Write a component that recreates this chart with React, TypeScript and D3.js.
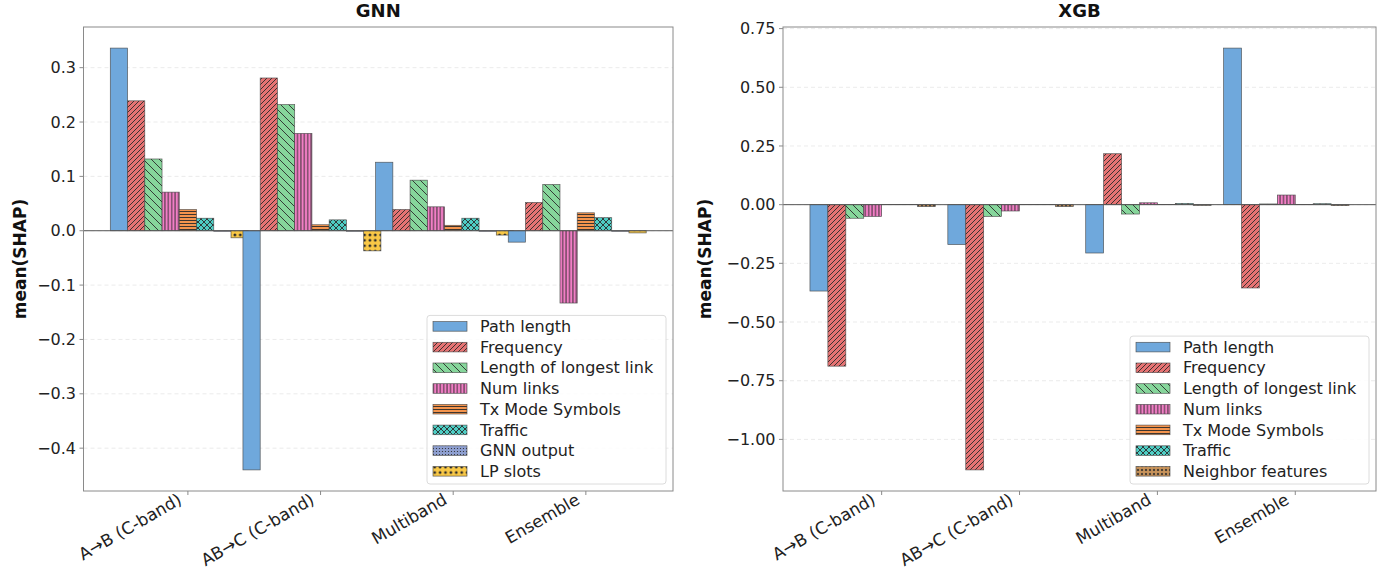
import React from "react";
import * as d3 from "d3";

const categories = ["A→B (C-band)", "AB→C (C-band)", "Multiband", "Ensemble"];

const gnnFeatures = [
  "Path length",
  "Frequency",
  "Length of longest link",
  "Num links",
  "Tx Mode Symbols",
  "Traffic",
  "GNN output",
  "LP slots",
];
const xgbFeatures = [
  "Path length",
  "Frequency",
  "Length of longest link",
  "Num links",
  "Tx Mode Symbols",
  "Traffic",
  "Neighbor features",
];

// GNN mean(SHAP), one value per category
const gnnPathLength = [0.336, -0.44, 0.126, -0.021];
const gnnFrequency = [0.239, 0.281, 0.039, 0.052];
const gnnLongestLink = [0.132, 0.232, 0.093, 0.085];
const gnnNumLinks = [0.071, 0.179, 0.044, -0.133];
const gnnTxMode = [0.039, 0.011, 0.01, 0.033];
const gnnTraffic = [0.023, 0.02, 0.023, 0.024];
const gnnOutput = [-0.001, -0.001, -0.001, -0.001];
const gnnLpSlots = [-0.013, -0.037, -0.008, -0.004];

// XGB mean(SHAP)
const xgbPathLength = [-0.368, -0.17, -0.206, 0.667];
const xgbFrequency = [-0.688, -1.13, 0.217, -0.355];
const xgbLongestLink = [-0.058, -0.05, -0.04, 0.003];
const xgbNumLinks = [-0.05, -0.027, 0.008, 0.041];
const xgbTxMode = [0.001, 0.001, 0.001, 0.001];
const xgbTraffic = [0.001, 0.001, 0.005, 0.004];
const xgbNeighbor = [-0.008, -0.008, -0.003, -0.004];

const gnnTicks = [-0.4, -0.3, -0.2, -0.1, 0, 0.1, 0.2, 0.3];
const xgbTicks = [-1.0, -0.75, -0.5, -0.25, 0, 0.25, 0.5, 0.75];

const featureStyle: Record<string, { color: string; hatch: string }> = {
  "Path length": { color: "#6fa8dc", hatch: "none" },
  Frequency: { color: "#e67373", hatch: "/" },
  "Length of longest link": { color: "#86d69b", hatch: "\\" },
  "Num links": { color: "#f27ec6", hatch: "|" },
  "Tx Mode Symbols": { color: "#f4944d", hatch: "-" },
  Traffic: { color: "#4ecdc4", hatch: "x" },
  "GNN output": { color: "#8e9fd0", hatch: "." },
  "LP slots": { color: "#f9c846", hatch: "o" },
  "Neighbor features": { color: "#c8935a", hatch: "*" },
};

const BAR_W = 0.13;
const FONT = "DejaVu Sans, sans-serif";
const ink = "#2a2a2a";

const patId = (name: string) => "hatch-" + name.replace(/[^a-zA-Z]/g, "");

function Hatch({ name }: { name: string }) {
  const { color, hatch } = featureStyle[name];
  const id = patId(name);
  const base = (w: number, h: number, children: React.ReactNode) => (
    <pattern id={id} width={w} height={h} patternUnits="userSpaceOnUse">
      <rect width={w} height={h} fill={color} />
      {children}
    </pattern>
  );
  const s = { stroke: ink, strokeWidth: 0.9, fill: "none" };
  switch (hatch) {
    case "/":
      return base(5, 5, <path d="M-1,1 L1,-1 M0,5 L5,0 M4,6 L6,4" {...s} />);
    case "\\":
      return base(8, 8, <path d="M0,0 L8,8 M-2,6 L2,10 M6,-2 L10,2" {...s} />);
    case "|":
      return base(3.4, 4, <path d="M1.7,0 L1.7,4" {...s} />);
    case "-":
      return base(4, 3, <path d="M0,1.5 L4,1.5" {...s} />);
    case "x":
      return base(
        6,
        6,
        <path d="M0,0 L6,6 M6,0 L0,6 M-1,5 L1,7 M5,-1 L7,1" {...s} />
      );
    case ".":
      return base(3, 3, <circle cx={1.5} cy={1.5} r={0.6} fill={ink} />);
    case "o":
      return base(5.4, 5.4, <circle cx={2.7} cy={2.7} r={1.4} fill={ink} />);
    case "*":
      return base(
        4,
        4,
        <path d="M2,0.8 L2,3.2 M0.8,2 L3.2,2 M1.1,1.1 L2.9,2.9 M2.9,1.1 L1.1,2.9" stroke={ink} strokeWidth={0.6} />
      );
    default:
      return base(4, 4, null);
  }
}

type PanelProps = {
  title: string;
  features: string[];
  series: number[][];
  ticks: number[];
  fmt: (v: number) => string;
  left: number;
  right: number;
  labelX: number;
};

const TOP = 27;
const BOTTOM = 491;

function Panel({ title, features, series, ticks, fmt, left, right, labelX }: PanelProps) {
  const n = features.length;
  const lo = -(n / 2) * BAR_W - BAR_W / 2;
  const hi = categories.length - 1 + (n / 2 - 1) * BAR_W + BAR_W / 2;
  const xPad = (hi - lo) * 0.05;
  const x = d3.scaleLinear().domain([lo - xPad, hi + xPad]).range([left, right]);

  const all = series.flat();
  const yMin = Math.min(0, d3.min(all) as number);
  const yMax = Math.max(0, d3.max(all) as number);
  const yPad = (yMax - yMin) * 0.05;
  const y = d3.scaleLinear().domain([yMin - yPad, yMax + yPad]).range([BOTTOM, TOP]);
  const bw = x(BAR_W) - x(0);

  const legendW = 239;
  const rowH = 20.7;
  const legendH = n * rowH + 3;
  const lx = right - 7 - legendW;
  const ly = BOTTOM - 7 - legendH;

  return (
    <g>
      {/* grid */}
      {ticks.map((t) => (
        <line
          key={"g" + t}
          x1={left}
          x2={right}
          y1={y(t)}
          y2={y(t)}
          stroke="#e6e6e6"
          strokeDasharray="4,3"
          strokeWidth={0.8}
        />
      ))}

      {/* bars, group by group */}
      {categories.map((c, ci) =>
        features.map((f, fi) => {
          const v = series[fi][ci];
          const cx = x(ci + (fi - n / 2) * BAR_W);
          return (
            <rect
              key={c + f}
              x={cx - bw / 2}
              width={bw}
              y={Math.min(y(v), y(0))}
              height={Math.abs(y(v) - y(0))}
              fill={`url(#${patId(f)})`}
              stroke="#444"
              strokeWidth={0.7}
              strokeOpacity={0.85}
            />
          );
        })
      )}

      {/* zero line */}
      <line x1={left} x2={right} y1={y(0)} y2={y(0)} stroke="#555" strokeWidth={1} />

      {/* frame */}
      <rect x={left} y={TOP} width={right - left} height={BOTTOM - TOP} fill="none" stroke="#8a8a8a" strokeWidth={1} />

      {/* y ticks */}
      {ticks.map((t) => (
        <g key={"t" + t}>
          <line x1={left - 4} x2={left} y1={y(t)} y2={y(t)} stroke="#8a8a8a" />
          <text
            x={left - 7.5}
            y={y(t)}
            dy="0.35em"
            textAnchor="end"
            fontSize={16}
            fontFamily={FONT}
            fill="#222"
          >
            {fmt(t)}
          </text>
        </g>
      ))}

      {/* x ticks */}
      {categories.map((c, ci) => (
        <g key={"x" + c}>
          <line x1={x(ci)} x2={x(ci)} y1={BOTTOM} y2={BOTTOM + 4} stroke="#8a8a8a" />
          <text
            transform={`translate(${x(ci) - 5},${BOTTOM + 12}) rotate(-30)`}
            textAnchor="end"
            fontSize={16.8}
            fontFamily={FONT}
            fill="#222"
          >
            {c}
          </text>
        </g>
      ))}

      {/* title & y label */}
      <text
        x={(left + right) / 2}
        y={17}
        textAnchor="middle"
        fontSize={18}
        fontWeight="bold"
        fontFamily={FONT}
        fill="#111"
      >
        {title}
      </text>
      <text
        transform={`translate(${labelX},${(TOP + BOTTOM) / 2}) rotate(-90)`}
        textAnchor="middle"
        fontSize={17}
        fontWeight="bold"
        fontFamily={FONT}
        fill="#111"
      >
        mean(SHAP)
      </text>

      {/* legend */}
      <rect
        x={lx}
        y={ly}
        width={legendW}
        height={legendH}
        rx={3}
        fill="#fff"
        fillOpacity={0.85}
        stroke="#dcdcdc"
        strokeWidth={1}
      />
      {features.map((f, i) => {
        const cy = ly + 11 + i * rowH;
        return (
          <g key={"l" + f}>
            <rect
              x={lx + 6}
              y={cy - 4.8}
              width={34}
              height={9.6}
              fill={`url(#${patId(f)})`}
              stroke="#444"
              strokeWidth={0.7}
              strokeOpacity={0.85}
            />
            <text x={lx + 53} y={cy} dy="0.35em" fontSize={16} fontFamily={FONT} fill="#222">
              {f}
            </text>
          </g>
        );
      })}
    </g>
  );
}

const minus = (s: string) => s.replace("-", "\u2212");

export default function App() {
  const gnnSeries = [
    gnnPathLength,
    gnnFrequency,
    gnnLongestLink,
    gnnNumLinks,
    gnnTxMode,
    gnnTraffic,
    gnnOutput,
    gnnLpSlots,
  ];
  const xgbSeries = [
    xgbPathLength,
    xgbFrequency,
    xgbLongestLink,
    xgbNumLinks,
    xgbTxMode,
    xgbTraffic,
    xgbNeighbor,
  ];
  return (
    <svg
      width={1390}
      height={569}
      style={{ position: "absolute", left: 0, top: 0, background: "#fff" }}
    >
      <defs>
        {Object.keys(featureStyle).map((k) => (
          <Hatch key={k} name={k} />
        ))}
      </defs>
      <Panel
        title="GNN"
        features={gnnFeatures}
        series={gnnSeries}
        ticks={gnnTicks}
        fmt={(v) => minus(d3.format(".1f")(v))}
        left={83.5}
        right={673}
        labelX={26}
      />
      <Panel
        title="XGB"
        features={xgbFeatures}
        series={xgbSeries}
        ticks={xgbTicks}
        fmt={(v) => minus(d3.format(".2f")(v))}
        left={783}
        right={1376}
        labelX={711}
      />
    </svg>
  );
}
